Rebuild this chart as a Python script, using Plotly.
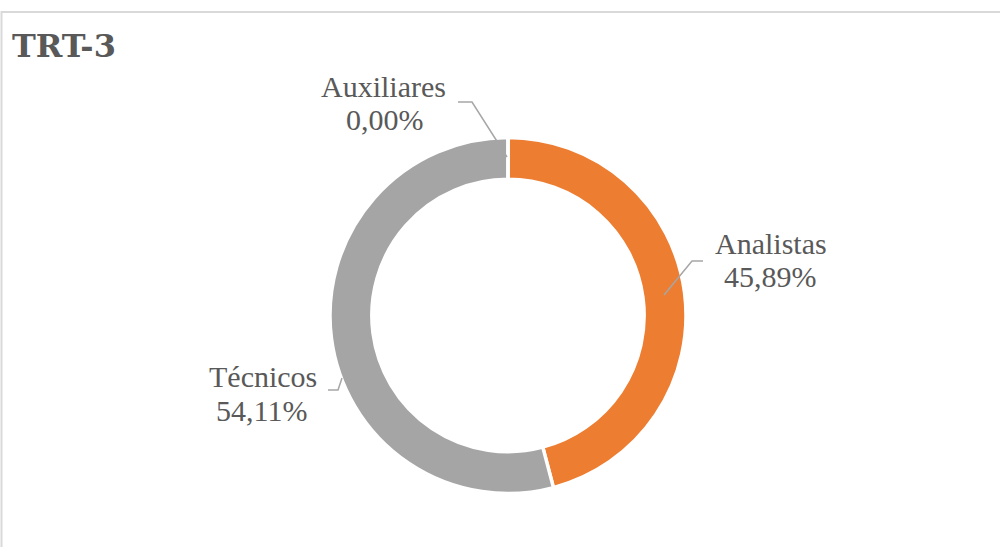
import plotly.graph_objects as go

# Distribuição de servidores por cargo
categorias = ["Analistas", "Técnicos", "Auxiliares"]
percentuais = [45.89, 54.11, 0.00]
cores = ["#ED7D31", "#A5A5A5", "#7F7F7F"]

W, H = 1000, 547
FONTE = "Liberation Serif"
FONTE_TITULO = "DejaVu Serif"
COR_TEXTO = "#595959"
COR_GUIA = "#A6A6A6"

# centro e raio do anel em pixels
CX, CY, R = 508, 315.5, 178


def px(x):
    return x / W


def py(y):
    return 1 - y / H


def fmt(v):
    return f"{v:.2f}".replace(".", ",") + "%"


fig = go.Figure(
    go.Pie(
        labels=categorias,
        values=percentuais,
        hole=0.765,
        sort=False,
        direction="clockwise",
        rotation=0,
        textinfo="none",
        hoverinfo="label+percent",
        marker=dict(colors=cores, line=dict(color="white", width=3.5)),
        domain=dict(x=[px(CX - R), px(CX + R)], y=[py(CY + R), py(CY - R)]),
        showlegend=False,
    )
)

# posição dos rótulos (nome e percentual) e das linhas de chamada
rotulos = {
    "Analistas": dict(nome=(771, 244), valor=(770, 277),
                      guia=[(703, 261), (692, 261), (664, 295)]),
    "Técnicos": dict(nome=(263, 376), valor=(261, 410),
                     guia=[(328, 390), (338, 390), (342, 378)]),
    "Auxiliares": dict(nome=(383, 86), valor=(385, 119),
                       guia=[(458, 102), (472, 102), (507, 157)]),
}

anotacoes = []
formas = []
for cat, val in zip(categorias, percentuais):
    r = rotulos[cat]
    for texto, (x, y) in ((cat, r["nome"]), (fmt(val), r["valor"])):
        anotacoes.append(dict(
            x=px(x), y=py(y), xref="paper", yref="paper",
            text=texto, showarrow=False, xanchor="center", yanchor="middle",
            font=dict(family=FONTE, size=30, color=COR_TEXTO),
        ))
    caminho = "M " + " L ".join(f"{px(x)},{py(y)}" for x, y in r["guia"])
    formas.append(dict(type="path", path=caminho, xref="paper", yref="paper",
                       line=dict(color=COR_GUIA, width=1.5)))

# moldura da área do gráfico
formas.append(dict(type="rect", xref="paper", yref="paper",
                   x0=px(1.5), x1=px(1010), y0=py(560), y1=py(12),
                   line=dict(color="#D9D9D9", width=2), layer="below"))

anotacoes.append(dict(
    x=px(10), y=py(46), xref="paper", yref="paper",
    text="<b>TRT-3</b>", showarrow=False, xanchor="left", yanchor="middle",
    font=dict(family=FONTE_TITULO, size=32, color=COR_TEXTO),
))

fig.update_layout(
    width=W, height=H,
    margin=dict(l=0, r=0, t=0, b=0),
    paper_bgcolor="white",
    plot_bgcolor="white",
    annotations=anotacoes,
    shapes=formas,
)

fig.write_html("out.html")
